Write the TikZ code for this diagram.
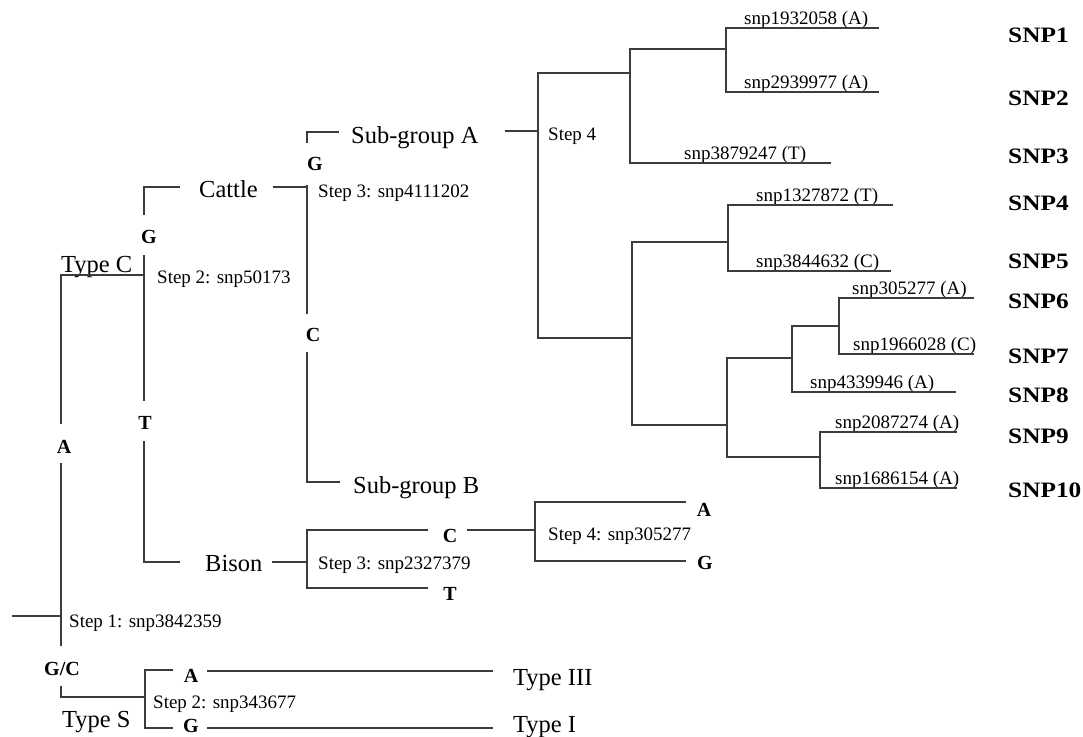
\documentclass[tikz,border=0pt]{standalone}
\usepackage{fontspec}
\setmainfont{Liberation Serif}
\newfontface\snpfont{Liberation Serif Bold}[FakeStretch=1.15]
\definecolor{lc}{RGB}{60,60,60}
\begin{document}
\begin{tikzpicture}[x=1pt,y=-1pt,
  br/.style={draw=lc,line width=1.2pt},
  bigtxt/.style={font=\fontsize{24.5}{26}\selectfont,inner sep=0pt,anchor=base west},
  smalltxt/.style={font=\fontsize{19}{20}\selectfont,inner sep=0pt,anchor=base west},
  nuc/.style={font=\bfseries\fontsize{20}{22}\selectfont,inner sep=0pt,anchor=base},
  snplab/.style={font=\snpfont\fontsize{22}{24}\selectfont,inner sep=0pt,anchor=base west}]
\fill[white] (0,0) rectangle (1083,736);
\useasboundingbox (0,0) rectangle (1083,736);

% ---- big labels
\node[bigtxt] (typeC) at (61,272) {Type C};
\node[bigtxt] (cattle) at (199,197) {Cattle};
\node[bigtxt] (subA) at (351,143) {Sub-group A};
\node[bigtxt] (subB) at (353,493) {Sub-group B};
\node[bigtxt] (bison) at (205,571) {Bison};
\node[bigtxt] (typeS) at (62,727) {Type S};
\node[bigtxt] (typeIII) at (513,685) {Type III};
\node[bigtxt] (typeI) at (513,732) {Type I};

% ---- step labels
\node[smalltxt] (step1) at (69,627) {Step 1: snp3842359};
\node[smalltxt] (step2c) at (157,283) {Step 2: snp50173};
\node[smalltxt] (step3a) at (318,197) {Step 3: snp4111202};
\node[smalltxt] (step4a) at (548,140) {Step 4};
\node[smalltxt] (step3b) at (318,569) {Step 3: snp2327379};
\node[smalltxt] (step4b) at (548,540) {Step 4: snp305277};
\node[smalltxt] (step2s) at (153,708) {Step 2: snp343677};

% ---- snp leaf labels
\node[smalltxt] (s1) at (744,24) {snp1932058 (A)};
\node[smalltxt] (s2) at (744,88) {snp2939977 (A)};
\node[smalltxt] (s3) at (684,159) {snp3879247 (T)};
\node[smalltxt] (s4) at (756,201) {snp1327872 (T)};
\node[smalltxt] (s5) at (756,267) {snp3844632 (C)};
\node[smalltxt] (s6) at (852,294) {snp305277 (A)};
\node[smalltxt] (s7) at (853,350) {snp1966028 (C)};
\node[smalltxt] (s8) at (810,388) {snp4339946 (A)};
\node[smalltxt] (s9) at (835,428) {snp2087274 (A)};
\node[smalltxt] (s10) at (835,484) {snp1686154 (A)};

% ---- SNP names
\node[snplab] (S1) at (1008,42) {SNP1};
\node[snplab] (S2) at (1008,105) {SNP2};
\node[snplab] (S3) at (1008,163) {SNP3};
\node[snplab] (S4) at (1008,210) {SNP4};
\node[snplab] (S5) at (1008,268) {SNP5};
\node[snplab] (S6) at (1008,308) {SNP6};
\node[snplab] (S7) at (1008,363) {SNP7};
\node[snplab] (S8) at (1008,402) {SNP8};
\node[snplab] (S9) at (1008,443) {SNP9};
\node[snplab] (S10) at (1008,497) {SNP10};

% ---- nucleotide labels
\node[nuc] (nA1) at (64,453) {A};
\node[nuc] (nGC) at (62,675) {G/C};
\node[nuc] (nG1) at (149,243) {G};
\node[nuc] (nT1) at (145,429) {T};
\node[nuc] (nG2) at (315,170) {G};
\node[nuc] (nC2) at (313,341) {C};
\node[nuc] (nC3) at (450,542) {C};
\node[nuc] (nT3) at (450,600) {T};
\node[nuc] (nA4) at (704,516) {A};
\node[nuc] (nG4) at (705,569) {G};
\node[nuc] (nA5) at (191,682) {A};
\node[nuc] (nG5) at (191,732.5) {G};

% ---- junction coordinates
\coordinate (root) at (12,616);
\coordinate (j1) at (61,616);
\coordinate (jC) at (61,275);
\coordinate (jC2) at (144,275);
\coordinate (jS) at (61,697);
\coordinate (jS2) at (145,697);

% ---- main tree
\draw[br] (root) -- (j1);
\draw[br] (jC2) -- (jC) -- (61,424);
\draw[br] (61,463) -- (61,646);
\draw[br] (61,686) -- (jS) -- (jS2);
\draw[br] (180,187) -- (144,187) -- (144,215);
\draw[br] (144,255) -- (144,401);
\draw[br] (144,441) -- (144,562) -- (180,562);
\draw[br] (273,187) -- (307,187);
\draw[br] (307,143) -- (307,132) -- (339,132);
\draw[br] (307,185) -- (307,314);
\draw[br] (307,352) -- (307,482) -- (340,482);
\draw[br] (505,131) -- (538,131);
\draw[br] (272,562) -- (307,562);
\draw[br] (428,530) -- (307,530) -- (307,588) -- (428,588);
\draw[br] (467,530) -- (535,530);
\draw[br] (686,502) -- (535,502) -- (535,561) -- (686,561);
\draw[br] (173,670) -- (145,670) -- (145,728) -- (173,728);
\draw[br] (207,671) -- (493,671);
\draw[br] (207,728) -- (493,728);

% ---- step 4 subtree
\draw[br] (630,73) -- (538,73) -- (538,338) -- (632,338);
\draw[br] (726,49) -- (630,49) -- (630,163) -- (831,163);
\draw[br] (879,28) -- (726,28) -- (726,92) -- (879,92);
\draw[br] (728,242) -- (632,242) -- (632,425) -- (727,425);
\draw[br] (893,205) -- (728,205) -- (728,271) -- (891,271);
\draw[br] (792,358) -- (727,358) -- (727,457) -- (820,457);
\draw[br] (839,326) -- (792,326) -- (792,392) -- (956,392);
\draw[br] (974,298) -- (839,298) -- (839,354) -- (974,354);
\draw[br] (957,432) -- (820,432) -- (820,488) -- (957,488);
\end{tikzpicture}
\end{document}
